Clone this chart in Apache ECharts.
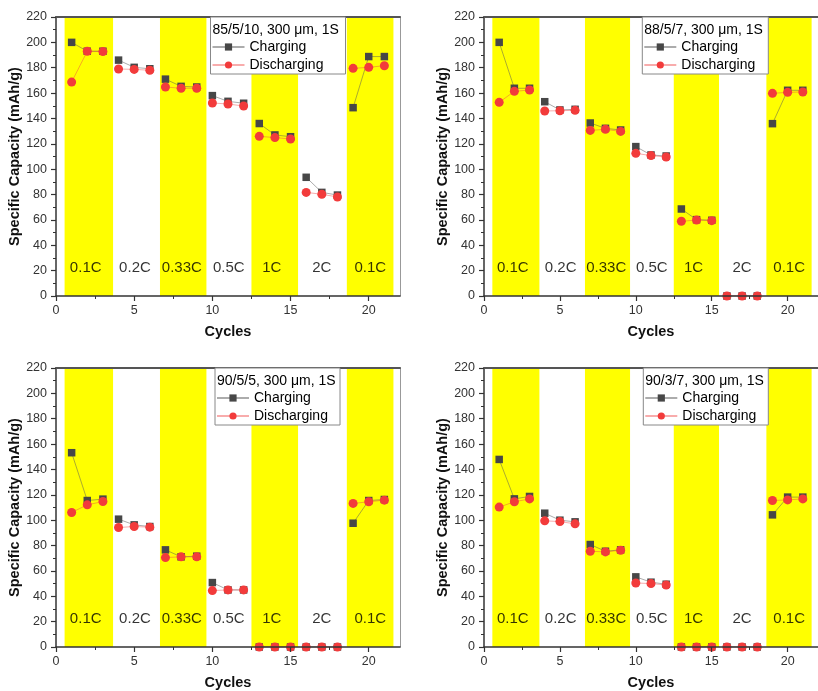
<!DOCTYPE html>
<html>
<head>
<meta charset="utf-8">
<title>Rate capability</title>
<script src="https://cdn.jsdelivr.net/npm/echarts@6/dist/echarts.min.js"></script>
<style>
  html, body { margin: 0; padding: 0; background: #ffffff; }
  #chart { width: 818px; height: 691px; }
</style>
</head>
<body>
<div id="chart"></div>
<script>
// Cycle index shared by every panel
const cycles = [1, 2, 3, 4, 5, 6, 7, 8, 9, 10, 11, 12, 13, 14, 15, 16, 17, 18, 19, 20, 21];
// Cycles run at each C-rate before switching
const cyclesPerStep = 3;

// Electrode composition of each panel
const panelTitles = ['85/5/10, 300 \u03bcm, 1S', '88/5/7, 300 \u03bcm, 1S', '90/5/5, 300 \u03bcm, 1S', '90/3/7, 300 \u03bcm, 1S'];

// Specific capacity (mAh/g), charge and discharge, per panel
const charge85 = [200, 193, 193, 186, 180.3, 179.2, 171, 165.3, 164.8, 158, 153.5, 152, 136, 127, 125.6, 93.6, 81.7, 79.6, 148.5, 188.8, 188.8];
const discharge85 = [168.7, 193, 192.7, 179, 178.7, 178, 164.8, 163.8, 163.8, 152.2, 151.4, 149.8, 125.9, 124.9, 123.8, 81.7, 80.2, 78.1, 179.5, 180.3, 181.6];

const charge88 = [200, 163.8, 163.8, 153.2, 146.7, 147.2, 136.4, 132.2, 130.9, 117.8, 111.2, 110.4, 68.6, 60.2, 59.7, 0, 0, 0, 135.9, 162.2, 162.2];
const discharge88 = [152.7, 161.4, 162.4, 145.9, 146.1, 146.4, 130.6, 131.4, 129.8, 112.5, 110.7, 109.6, 58.9, 59.9, 59.4, 0, 0, 0, 159.8, 160.6, 160.9];

const charge90a = [153.2, 115.5, 116.6, 100.8, 96.3, 95, 76.6, 71.1, 71.6, 50.8, 45, 45, 0, 0, 0, 0, 0, 0, 97.6, 115.5, 116.3];
const discharge90a = [106.1, 112.1, 114.7, 94.2, 95, 94.5, 70.5, 71.1, 71.1, 44.5, 45, 45, 0, 0, 0, 0, 0, 0, 113.2, 114.5, 115.8];

const charge90b = [147.9, 116.8, 118.7, 105.5, 100, 98.7, 80.8, 75.5, 76.6, 55.3, 51.1, 49.5, 0, 0, 0, 0, 0, 0, 104.2, 118.2, 118.2];
const discharge90b = [110.3, 114.5, 116.8, 99.5, 98.9, 97.1, 75.5, 75, 76.3, 50.5, 50, 48.9, 0, 0, 0, 0, 0, 0, 115.5, 116, 116.8];

const chargeSets = [charge85, charge88, charge90a, charge90b];
const dischargeSets = [discharge85, discharge88, discharge90a, discharge90b];

// C-rate steps: shaded cycle spans and their captions
const shadedSpans = [[0.55, 3.65], [6.65, 9.62], [12.5, 15.48], [18.6, 21.58]];
const rateLabels = ['0.1C', '0.2C', '0.33C', '0.5C', '1C', '2C', '0.1C'];
const rateLabelCycle = [1.9, 5.05, 8.05, 11.05, 13.8, 17.0, 20.1];
const rateLabelCapacity = 22;

// Axis ticks
const xTicks = [0, 5, 10, 15, 20];

// Pair cycles with values; the line is broken between C-rate steps
function stepData(values) {
  const out = [];
  cycles.forEach((c, k) => {
    out.push([c, values[k]]);
    if ((k + 1) % cyclesPerStep === 0 && k < cycles.length - 1) out.push([c + 0.5, null]);
  });
  return out;
}

// ---------- layout ----------
const FONT = '"Liberation Sans", Arial, Helvetica, sans-serif';
const plotW = 344, plotH = 279;
const plotLeft = [56, 484, 56, 484];
const plotTop = [17, 17, 368, 368];
const legendBox = [
  { x: 210.5, y: 17, w: 135, h: 57 },
  { x: 642.3, y: 17, w: 126, h: 57 },
  { x: 215, y: 368, w: 125, h: 57 },
  { x: 643.3, y: 368, w: 125, h: 57 }
];

const grid = [], xAxis = [], yAxis = [], series = [], legend = [], graphic = [];

for (let p = 0; p < 4; p++) {
  grid.push({ left: plotLeft[p], top: plotTop[p], width: plotW, height: plotH, containLabel: false });

  // bottom axis
  xAxis.push({
    type: 'value', gridIndex: p, min: 0, max: 22, interval: 5, z: 5,
    name: 'Cycles', nameLocation: 'middle', nameGap: 28,
    nameTextStyle: { fontFamily: FONT, fontSize: 14.5, fontWeight: 'bold', color: '#111' },
    axisLine: { onZero: false, lineStyle: { color: '#333', width: 1.5 } },
    axisTick: { inside: false, length: 5, lineStyle: { color: '#333', width: 1.2 }, customValues: xTicks },
    minorTick: { show: true, splitNumber: 2, length: 3, lineStyle: { color: '#333', width: 1 } },
    axisLabel: { fontFamily: FONT, fontSize: 12.5, color: '#333', margin: 8, customValues: xTicks },
    splitLine: { show: false }
  });
  // top frame
  xAxis.push({
    type: 'value', gridIndex: p, min: 0, max: 22, position: 'top', z: 5,
    axisLine: { onZero: false, lineStyle: { color: '#555', width: 2 } },
    axisTick: { show: false }, axisLabel: { show: false }, splitLine: { show: false }
  });
  // left axis
  yAxis.push({
    type: 'value', gridIndex: p, min: 0, max: 220, interval: 20, z: 5,
    name: 'Specific Capacity (mAh/g)', nameLocation: 'middle', nameGap: 27,
    nameTextStyle: { fontFamily: FONT, fontSize: 14.5, fontWeight: 'bold', color: '#111' },
    axisLine: { show: true, onZero: false, lineStyle: { color: '#333', width: 1.5 } },
    axisTick: { show: true, inside: false, length: 5, lineStyle: { color: '#333', width: 1.2 } },
    minorTick: { show: true, splitNumber: 2, length: 3, lineStyle: { color: '#333', width: 1 } },
    axisLabel: { fontFamily: FONT, fontSize: 12.5, color: '#333', margin: 9 },
    splitLine: { show: false }
  });
  // right frame
  yAxis.push({
    type: 'value', gridIndex: p, min: 0, max: 220, position: 'right', z: 5,
    axisLine: { show: true, onZero: false, lineStyle: { color: '#999', width: 1 } },
    axisTick: { show: false }, axisLabel: { show: false }, splitLine: { show: false }
  });

  const xi = p * 2, yi = p * 2;

  // shaded C-rate steps
  series.push({
    type: 'line', xAxisIndex: xi, yAxisIndex: yi, data: [], z: 1, silent: true,
    markArea: {
      silent: true,
      itemStyle: { color: '#ffff00' },
      data: shadedSpans.map(s => [{ xAxis: s[0] }, { xAxis: s[1] }])
    }
  });

  // C-rate captions
  series.push({
    type: 'scatter', xAxisIndex: xi, yAxisIndex: yi, z: 2, silent: true,
    symbolSize: 0,
    data: rateLabelCycle.map(c => [c, rateLabelCapacity]),
    label: {
      show: true, position: 'inside',
      formatter: d => rateLabels[d.dataIndex],
      fontFamily: FONT, fontSize: 15, color: '#000'
    }
  });

  series.push({
    name: 'Charging', type: 'line', xAxisIndex: xi, yAxisIndex: yi, z: 3,
    data: stepData(chargeSets[p]),
    symbol: 'rect', symbolSize: 7.5,
    itemStyle: { color: '#474747' },
    lineStyle: { color: 'rgba(90,90,90,0.5)', width: 1 },
    emphasis: { disabled: true }
  });
  series.push({
    name: 'Discharging', type: 'line', xAxisIndex: xi, yAxisIndex: yi, z: 4,
    data: stepData(dischargeSets[p]),
    symbol: 'circle', symbolSize: 9,
    itemStyle: { color: '#f23b3b' },
    lineStyle: { color: 'rgba(240,70,70,0.45)', width: 1 },
    emphasis: { disabled: true }
  });

  const b = legendBox[p];
  graphic.push({
    type: 'rect', z: 10,
    shape: { x: b.x, y: b.y, width: b.w, height: b.h },
    style: { fill: '#ffffff', stroke: '#888888', lineWidth: 1 }
  });
  graphic.push({
    type: 'text', z: 11, x: b.x + 2, y: b.y + 13,
    style: { text: panelTitles[p], font: '14px ' + FONT, fill: '#000', verticalAlign: 'middle', align: 'left' }
  });

  legend.push({
    orient: 'vertical', left: b.x + 1, top: b.y + 23, z: 12, padding: 0,
    itemWidth: 32, itemHeight: 9, itemGap: 4,
    selectedMode: false,
    data: ['Charging', 'Discharging'],
    textStyle: { fontFamily: FONT, fontSize: 14, color: '#000' }
  });
}

const chart = echarts.init(document.getElementById('chart'), null, { renderer: 'canvas' });
chart.setOption({
  animation: false,
  backgroundColor: '#ffffff',
  grid, xAxis, yAxis, series, legend, graphic
});
</script>
</body>
</html>
